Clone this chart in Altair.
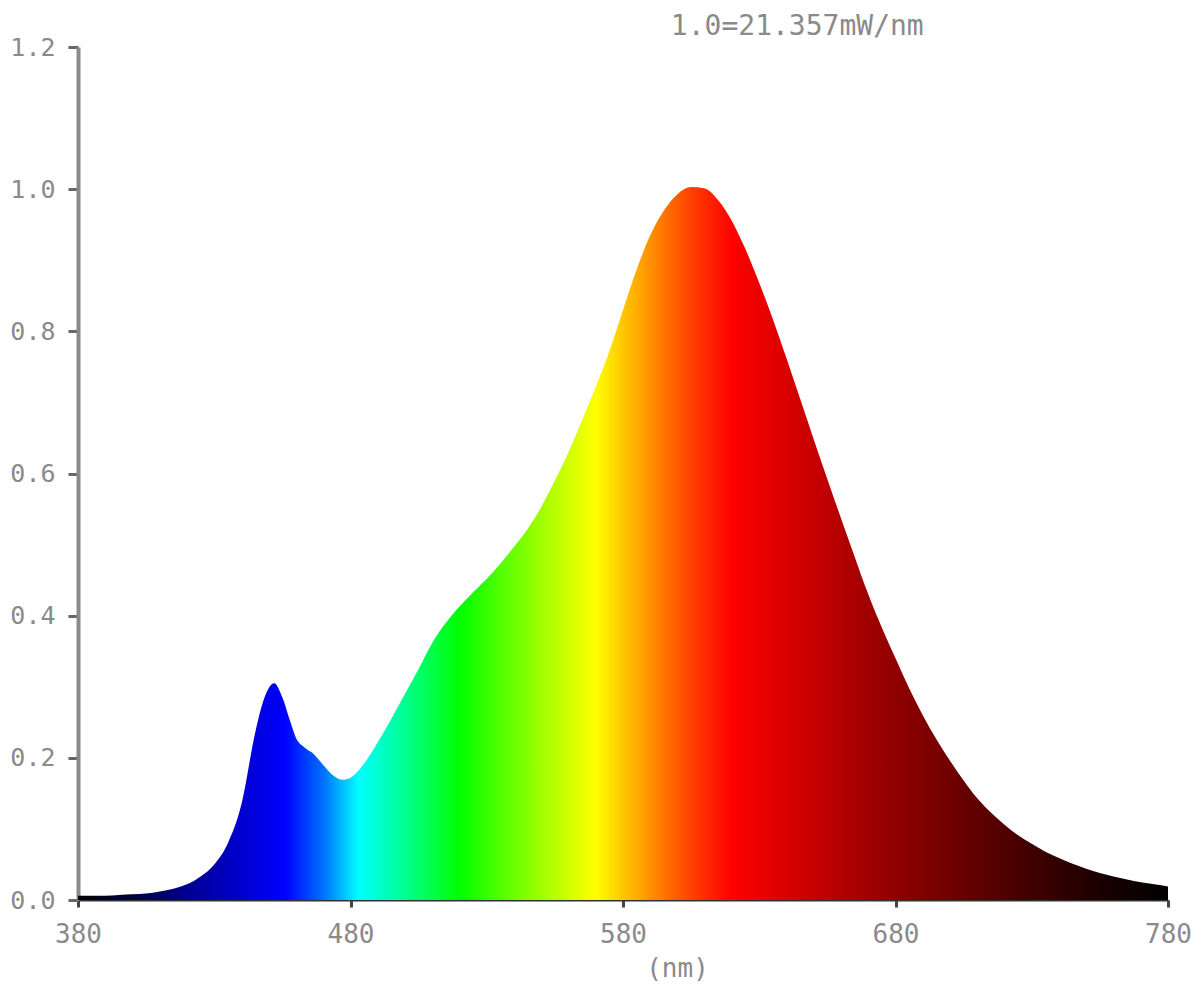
import altair as alt
import pandas as pd

# Relative spectral power distribution (1.0 = 21.357 mW/nm)
wavelength_nm = [380, 385, 390, 395, 400, 405, 410, 415, 420, 425, 430, 435, 440, 445,
                 448, 452, 455, 458, 460, 463, 466, 470, 474, 477, 480, 485, 490, 495,
                 500, 505, 510, 515, 520, 525, 530, 535, 540, 545, 550, 555, 560, 565,
                 570, 575, 580, 585, 590, 595, 600, 605, 610, 615, 620, 625, 630, 635,
                 640, 645, 650, 655, 660, 665, 670, 675, 680, 685, 690, 695, 700, 705,
                 710, 715, 720, 725, 730, 735, 740, 745, 750, 755, 760, 765, 770, 775,
                 780]
relative_power = [0.006, 0.006, 0.006, 0.007, 0.008, 0.009, 0.012, 0.016, 0.022, 0.033,
                  0.050, 0.080, 0.135, 0.235, 0.280, 0.305, 0.285, 0.250, 0.228, 0.215,
                  0.207, 0.190, 0.174, 0.169, 0.172, 0.192, 0.222, 0.255, 0.290, 0.325,
                  0.362, 0.390, 0.413, 0.433, 0.452, 0.473, 0.497, 0.522, 0.553, 0.590,
                  0.630, 0.675, 0.722, 0.772, 0.830, 0.887, 0.935, 0.970, 0.993, 1.003,
                  1.001, 0.984, 0.955, 0.915, 0.868, 0.817, 0.762, 0.705, 0.648, 0.592,
                  0.537, 0.483, 0.430, 0.383, 0.340, 0.298, 0.260, 0.226, 0.196, 0.168,
                  0.143, 0.123, 0.106, 0.091, 0.079, 0.068, 0.059, 0.051, 0.044, 0.038,
                  0.033, 0.029, 0.025, 0.022, 0.019]

x_ticks = [380, 480, 580, 680, 780]
y_ticks = [0.0, 0.2, 0.4, 0.6, 0.8, 1.0, 1.2]
title_text = "1.0=21.357mW/nm"
x_title = "(nm)"

# spectral colour stops (wavelength -> colour)
stop_nm = [380, 400, 420, 440, 456, 470, 483, 500, 520, 550, 570, 590, 605, 620,
           645, 670, 700, 730, 760, 780]
stop_color = ["#000000", "#000040", "#000090", "#0000d0", "#0000ff", "#0070ff",
              "#00ffff", "#00ff90", "#00ff00", "#a0ff00", "#ffff00", "#ff9000",
              "#ff4000", "#ff0000", "#d00000", "#a00000", "#700000", "#400000",
              "#150000", "#000000"]

df = pd.DataFrame({"nm": wavelength_nm, "p": relative_power})

stops = [alt.GradientStop(color=c, offset=(w - 380) / 400.0)
         for w, c in zip(stop_nm, stop_color)]
grad = alt.Gradient(gradient="linear", stops=stops, x1=0, x2=1, y1=0, y2=0)

font = "DejaVu Sans Mono"

chart = alt.Chart(df).mark_area(color=grad, interpolate="monotone").encode(
    x=alt.X("nm:Q",
            scale=alt.Scale(domain=[380, 780], nice=False, zero=False),
            axis=alt.Axis(values=x_ticks, title=x_title, grid=False,
                          labelFont=font, labelFontSize=26, labelColor="#8a8a8a",
                          titleFont=font, titleFontSize=26, titleColor="#8a8a8a",
                          titleFontWeight="normal", titleX=599, titleY=76,
                          titleBaseline="alphabetic",
                          domainColor="#333333", domainWidth=2,
                          tickColor="#444444", tickSize=7, tickWidth=3,
                          labelPadding=14, labelFlush=False)),
    y=alt.Y("p:Q",
            scale=alt.Scale(domain=[0, 1.2], nice=False),
            axis=alt.Axis(values=y_ticks, title=None, grid=False, format=".1f",
                          labelFont=font, labelFontSize=25, labelColor="#8a8a8a",
                          domainColor="#8a8a8a", domainWidth=4,
                          tickColor="#666666", tickSize=10, tickWidth=3,
                          labelPadding=13)),
).properties(
    width=1090,
    height=853,
    background="white",
    title=alt.TitleParams(title_text, anchor="start", dx=661, dy=20, offset=14,
                          font=font, fontSize=28, color="#8a8a8a",
                          fontWeight="normal"),
    autosize=alt.AutoSizeParams(type="none"),
    padding={"left": 70, "top": 39, "right": 24, "bottom": 82},
).configure_view(strokeWidth=0, stroke="transparent")

chart.save("out.html", embed_options={"renderer": "svg", "actions": False})
